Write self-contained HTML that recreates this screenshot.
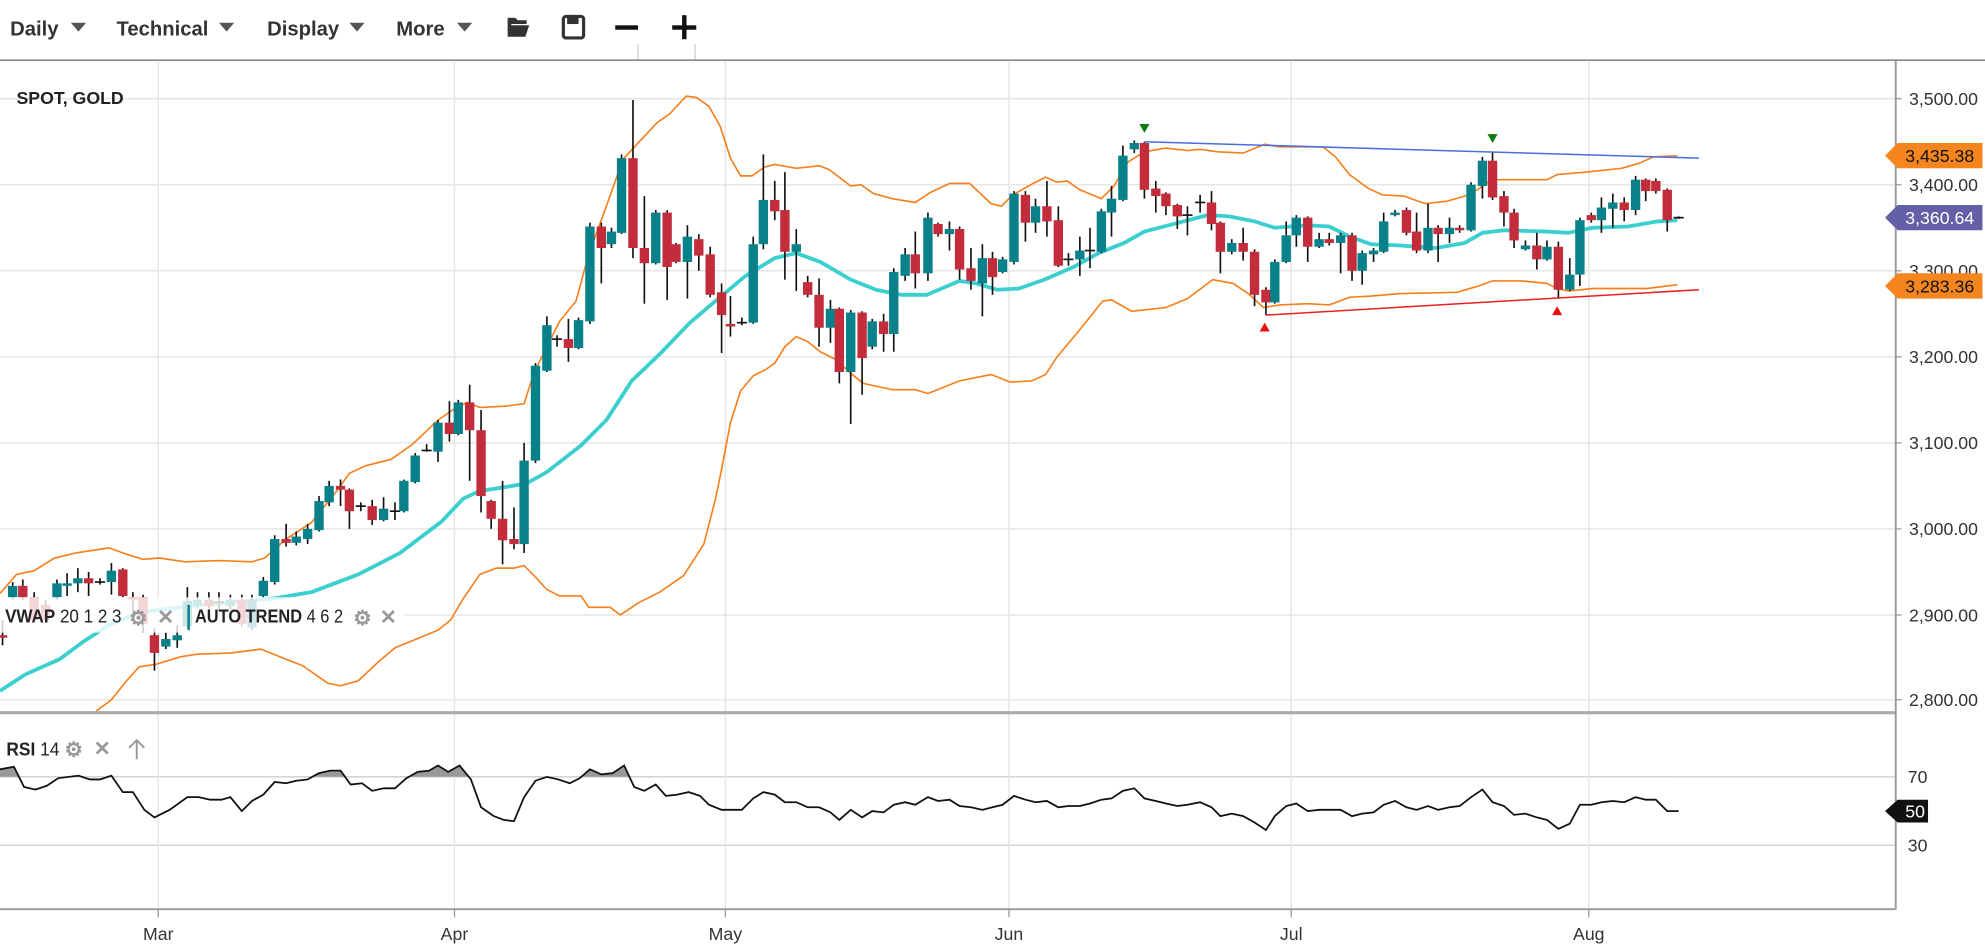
<!DOCTYPE html>
<html><head><meta charset="utf-8"><style>
html,body{margin:0;padding:0;background:#fff;}
svg{display:block;font-family:"Liberation Sans",sans-serif;}
</style></head><body>
<svg id="s" width="1985" height="949" viewBox="0 0 1568 750" preserveAspectRatio="none">
<defs><clipPath id="above70"><rect x="0" y="560" width="1497" height="54"/></clipPath></defs>
<rect x="0" y="0" width="1568" height="750" fill="#fff"/>
<g font-weight="bold" font-size="16" fill="#333">
<text x="8" y="28">Daily</text><text x="92" y="28">Technical</text><text x="211" y="28">Display</text><text x="313" y="28">More</text>
</g>
<g fill="#555"><path d="M56 18h12l-6 7z"/><path d="M173 18h12l-6 7z"/><path d="M276 18h12l-6 7z"/><path d="M361 18h12l-6 7z"/></g>
<path d="M401 14h6l2 2h7v3h-12l-3 10z M403 20h15l-3 9h-14z" fill="#333"/>
<rect x="445" y="13" width="16" height="17" rx="2" fill="none" stroke="#333" stroke-width="2.5"/><rect x="448" y="13" width="9" height="6" fill="#333"/>
<rect x="486" y="20" width="18" height="3.5" fill="#111"/>
<rect x="531" y="20" width="19" height="3.5" fill="#111"/><rect x="538.8" y="12" width="3.5" height="19" fill="#111"/>
<line x1="504" y1="35" x2="504" y2="47" stroke="#ccc"/><line x1="549" y1="35" x2="549" y2="47" stroke="#ccc"/>
<line x1="0" y1="47.5" x2="1568" y2="47.5" stroke="#666" stroke-width="1"/>
<g stroke="#e6e6e6" stroke-width="1.2">
<line x1="0" y1="78" x2="1497" y2="78"/><line x1="0" y1="146" x2="1497" y2="146"/><line x1="0" y1="214" x2="1497" y2="214"/><line x1="0" y1="282" x2="1497" y2="282"/><line x1="0" y1="350" x2="1497" y2="350"/><line x1="0" y1="418" x2="1497" y2="418"/><line x1="0" y1="486" x2="1497" y2="486"/><line x1="0" y1="553" x2="1497" y2="553"/>
<line x1="0" y1="614" x2="1497" y2="614" stroke="#d5d5d5"/><line x1="0" y1="668" x2="1497" y2="668" stroke="#d5d5d5"/>
<line x1="125" y1="48" x2="125" y2="718"/><line x1="359" y1="48" x2="359" y2="718"/><line x1="573" y1="48" x2="573" y2="718"/><line x1="797" y1="48" x2="797" y2="718"/><line x1="1020" y1="48" x2="1020" y2="718"/><line x1="1255" y1="48" x2="1255" y2="718"/>
</g>
<g id="bands" fill="none"></g>
<g id="candles"></g>
<line x1="904" y1="112" x2="1342" y2="125" stroke="#4a6ee0" stroke-width="1.2"/>
<line x1="1000" y1="249" x2="1342" y2="229" stroke="#e82020" stroke-width="1.2"/>
<path d="M900 98h8l-4 7z M1175 106h8l-4 7z" fill="#0a7d0a"/>
<path d="M995 262h8l-4-7z M1226 249h8l-4-7z" fill="#e81010"/>
<text x="13" y="82" font-weight="bold" font-size="14" fill="#222">SPOT, GOLD</text>
<rect x="0" y="472" width="320" height="28" fill="#fff" fill-opacity="0.8"/>
<g font-size="14.5" fill="#222"><text x="4" y="492" textLength="92" lengthAdjust="spacingAndGlyphs"><tspan font-weight="bold">VWAP</tspan> 20 1 2 3</text>
<text x="154" y="492" textLength="117" lengthAdjust="spacingAndGlyphs"><tspan font-weight="bold">AUTO TREND</tspan> 4 6 2</text></g>
<g fill="#999" font-size="16" font-weight="bold"><text x="102" y="494">⚙</text><text x="124" y="493">✕</text><text x="279" y="494">⚙</text><text x="300" y="493">✕</text></g>
<line x1="149" y1="478" x2="149" y2="498" stroke="#0a8289" stroke-width="2"/>
<rect x="0" y="562" width="1497" height="2.5" fill="#aaa"/>
<g id="rsi"></g>
<g font-size="14.5" fill="#222"><text x="5" y="597" textLength="42" lengthAdjust="spacingAndGlyphs"><tspan font-weight="bold">RSI</tspan> 14</text></g>
<g fill="#999" font-size="16" font-weight="bold"><text x="51" y="598">⚙</text><text x="74" y="597">✕</text></g>
<path d="M108 600V585M102 591l6-6 6 6" stroke="#999" stroke-width="1.5" fill="none"/>
<line x1="0" y1="718.5" x2="1497" y2="718.5" stroke="#999" stroke-width="1.5"/>
<line x1="1497.5" y1="48" x2="1497.5" y2="719" stroke="#999" stroke-width="1.5"/>
<g stroke="#999"><line x1="125" y1="718" x2="125" y2="725"/><line x1="359" y1="718" x2="359" y2="725"/><line x1="573" y1="718" x2="573" y2="725"/><line x1="797" y1="718" x2="797" y2="725"/><line x1="1020" y1="718" x2="1020" y2="725"/><line x1="1255" y1="718" x2="1255" y2="725"/>
<line x1="1497" y1="78" x2="1502" y2="78"/><line x1="1497" y1="146" x2="1502" y2="146"/><line x1="1497" y1="214" x2="1502" y2="214"/><line x1="1497" y1="282" x2="1502" y2="282"/><line x1="1497" y1="350" x2="1502" y2="350"/><line x1="1497" y1="418" x2="1502" y2="418"/><line x1="1497" y1="486" x2="1502" y2="486"/><line x1="1497" y1="553" x2="1502" y2="553"/></g>
<g font-size="14" fill="#333">
<text x="1508" y="83">3,500.00</text><text x="1508" y="151">3,400.00</text><text x="1508" y="219">3,300.00</text><text x="1508" y="287">3,200.00</text><text x="1508" y="355">3,100.00</text><text x="1508" y="423">3,000.00</text><text x="1508" y="491">2,900.00</text><text x="1508" y="558">2,800.00</text>
<text x="1507" y="619">70</text><text x="1507" y="673">30</text>
<text x="125" y="743" text-anchor="middle">Mar</text><text x="359" y="743" text-anchor="middle">Apr</text><text x="573" y="743" text-anchor="middle">May</text><text x="797" y="743" text-anchor="middle">Jun</text><text x="1020" y="743" text-anchor="middle">Jul</text><text x="1255" y="743" text-anchor="middle">Aug</text>
</g>
<path d="M1489 123l10-10h67v20h-67z" fill="#f5861f"/><text x="1505" y="128" font-size="14" fill="#111">3,435.38</text>
<path d="M1489 172l10-10h67v20h-67z" fill="#6460a8"/><text x="1505" y="177" font-size="14" fill="#fff">3,360.64</text>
<path d="M1489 226l10-10h67v20h-67z" fill="#f5861f"/><text x="1505" y="231" font-size="14" fill="#111">3,283.36</text>
<path d="M1489 641l10-9h24v18h-24z" fill="#111"/><text x="1505" y="646" font-size="14" fill="#fff">50</text>
</svg>
<script>
var NS="http://www.w3.org/2000/svg";
function el(p,t,a){var e=document.createElementNS(NS,t);for(var k in a)e.setAttribute(k,a[k]);p.appendChild(e);return e;}
var C=[[2,502,504,490,510],[10,472,463,460,474],[18,463,472,458,474],[27,472,490,468,492],[36,478,490,474,492],[45,472,461,458,474],[53,463,461,453,471],[61.5,461,457,449,468],[70,457,461,452,471],[79,460,460,457,462],[88,460,451,445,470],[97,450,471,449,472],[105,472,474,468,486],[113,472,493,470,500],[122,502,516,496,530],[131,511,505,500,513],[140,506,502,494,512],[148,495,475,464,496],[156,478,474,468,480],[165,474,479,468,481],[173,476,477,468,482],[182,479,474,470,482],[191,474,493,470,495],[199,496,474,470,498],[208,471,459,456,472],[217,460,426,423,462],[226,426,429,414,432],[234,429,424,420,431],[243,426,418,414,430],[252,419,396,392,420],[260,397,384,380,400],[269,384,387,379,400],[276,387,404,386,418],[285,400,400,397,404],[294,400,411,395,415],[303,411,402,393,412],[312,404,404,397,411],[319,404,380,379,405],[328,381,360,358,382],[337,356,356,351,357],[346,357,334,332,365],[355,334,343,317,349],[362,343,318,316,344],[371,318,340,304,380],[380,340,392,324,405],[388,396,410,395,418],[397,410,427,380,446],[406,426,430,401,434],[414,430,364,350,437],[423,364,289,287,366],[432,293,257,250,294],[440,268,268,265,274],[449,268,275,252,286],[457,275,253,251,276],[466,254,179,176,256],[475,179,196,176,224],[483,193,183,180,196],[491,184,125,122,185],[500,125,196,79,204],[509,196,208,155,240],[518,208,168,166,209],[527,168,211,166,237],[534,193,207,192,208],[543,207,187,178,236],[552,189,202,185,214],[561,201,233,195,235],[570,231,249,224,279],[577,256,258,234,266],[586,255,255,251,257],[595,255,193,187,256],[603,193,158,122,197],[612,158,167,143,174],[620,166,199,136,221],[629,199,193,181,230],[638,223,233,218,235],[647,233,259,220,274],[656,259,244,237,271],[663,244,294,243,303],[672,294,247,245,335],[681,247,283,246,312],[689,274,254,252,276],[698,254,264,248,278],[706,264,215,212,278],[715,218,201,196,222],[723,201,216,183,228],[733,216,172,168,222],[741,177,185,176,187],[750,185,181,175,198],[758,181,213,179,221],[767,212,222,196,229],[776,224,204,193,250],[784,204,219,199,233],[792,215,205,203,216],[801,207,153,151,209],[810,154,176,151,191],[818,176,163,157,184],[827,163,175,143,187],[836,174,210,163,211],[844,205,205,200,210],[853,205,198,187,218],[861,198,198,180,212],[870,199,167,165,200],[878,168,157,147,187],[887,158,123,115,159],[896,118,113,111,121],[904,113,150,112,157],[913,149,155,143,168],[921,153,163,152,170],[930,162,171,161,181],[938,170,170,163,186],[948,160,160,154,168],[957,160,177,151,182],[964,176,199,175,216],[973,199,192,189,201],[982,192,199,180,206],[991,199,233,197,242],[1000,229,239,227,249],[1007,239,207,205,240],[1016,207,186,175,208],[1024,186,172,170,195],[1033,172,195,171,207],[1042,195,189,184,196],[1050,189,192,184,194],[1059,192,186,184,216],[1068,186,214,184,222],[1076,214,200,198,225],[1085,201,198,196,207],[1093,199,175,168,200],[1102,170,168,166,171],[1111,166,184,164,186],[1119,183,198,168,200],[1128,198,180,161,200],[1136,180,185,178,207],[1145,185,180,172,192],[1153,180,182,178,184],[1162,182,146,144,183],[1171,147,127,124,157],[1179,127,156,120,158],[1188,155,168,151,179],[1196,168,190,165,196],[1205,197,194,190,198],[1214,194,205,184,213],[1222,205,195,190,206],[1231,195,229,191,236],[1240,229,217,204,230],[1248,217,174,172,226],[1257,170,174,168,176],[1265,174,164,156,184],[1274,165,160,153,180],[1283,160,166,156,175],[1292,166,142,139,170],[1300,142,151,141,159],[1308,143,151,141,153],[1317,150,174,149,183],[1326,172,172,171,173]];
var g=document.getElementById("candles");
C.forEach(function(c){var x=c[0],o=c[1],cl=c[2],h=c[3],l=c[4];
 el(g,"line",{x1:x,y1:h,x2:x,y2:l,stroke:"#111","stroke-width":1.3});
 var t=Math.min(o,cl),b=Math.max(o,cl),col=cl<o?"#08818a":"#c32d3b";
 if(b-t<1.2){el(g,"line",{x1:x-4,y1:t,x2:x+4,y2:t,stroke:"#111","stroke-width":1.3});}
 else el(g,"rect",{x:x-3.7,y:t,width:7.4,height:b-t,fill:col});});
function pl(pts){return pts.map(function(p){return p[0]+","+p[1]}).join(" ");}
var up=[[0,469],[13,454],[27,451],[43,441],[60,437],[86,433],[100,438],[113,442],[126,441],[146,444],[173,443],[199,444],[209,441],[226,426],[246,413],[266,388],[276,374],[289,368],[309,363],[326,351],[346,332],[359,323],[369,318],[379,322],[399,321],[414,319],[422,294],[442,254],[455,238],[465,201],[479,163],[492,126],[505,112],[519,97],[529,90],[542,76],[550,77],[560,84],[569,100],[577,125],[585,139],[594,139],[604,132],[612,130],[629,133],[638,132],[647,131],[655,134],[672,147],[680,146],[690,153],[705,157],[723,160],[735,152],[750,145],[766,145],[783,161],[791,163],[800,154],[816,145],[826,140],[835,144],[843,143],[853,150],[870,157],[880,147],[891,128],[904,120],[921,117],[938,119],[948,118],[962,120],[982,121],[999,114],[1010,116],[1045,116],[1055,124],[1066,138],[1081,149],[1092,154],[1109,155],[1126,161],[1143,159],[1157,155],[1167,150],[1178,142],[1202,142],[1222,142],[1230,138],[1253,136],[1281,133],[1295,129],[1306,124],[1325,123]];
var lo=[[76,562],[88,553],[100,538],[110,527],[123,525],[143,519],[156,517],[183,516],[206,513],[226,521],[239,526],[259,540],[269,542],[283,538],[299,523],[312,512],[329,505],[346,498],[356,490],[366,473],[379,454],[392,449],[406,449],[414,447],[422,455],[432,466],[442,471],[459,471],[465,480],[482,480],[490,486],[505,476],[521,468],[540,455],[556,430],[565,395],[570,371],[577,334],[585,309],[595,297],[605,292],[612,287],[620,274],[629,266],[638,270],[648,278],[660,284],[672,295],[682,303],[705,308],[723,308],[733,311],[758,301],[783,296],[798,302],[815,301],[826,296],[835,282],[851,263],[871,238],[878,237],[894,246],[921,243],[938,236],[958,221],[974,224],[986,232],[998,243],[1011,241],[1033,240],[1050,241],[1066,235],[1083,234],[1106,232],[1151,231],[1168,226],[1179,222],[1202,222],[1222,224],[1230,228],[1239,230],[1258,228],[1301,228],[1325,225]];
var mid=[[0,546],[20,533],[47,521],[66,507],[86,494],[110,484],[150,479],[183,476],[216,473],[246,468],[283,454],[316,437],[349,412],[366,394],[379,388],[399,385],[416,382],[432,373],[459,352],[479,332],[499,301],[521,280],[545,255],[565,238],[589,218],[612,204],[629,200],[648,207],[672,221],[692,229],[712,233],[732,233],[758,222],[771,224],[788,229],[805,228],[825,221],[848,211],[868,200],[888,192],[904,183],[931,176],[954,170],[971,171],[991,175],[1007,180],[1033,178],[1050,179],[1066,187],[1083,193],[1106,194],[1134,196],[1157,192],[1171,184],[1188,182],[1222,183],[1239,184],[1258,180],[1286,179],[1309,175],[1325,174]];
var b=document.getElementById("bands");
el(b,"polyline",{points:pl(up),stroke:"#f7801e","stroke-width":1.3});
el(b,"polyline",{points:pl(lo),stroke:"#f7801e","stroke-width":1.3});
el(b,"polyline",{points:pl(mid),stroke:"#3ccfcf","stroke-width":3,"stroke-linejoin":"round"});
var r=[[0,608],[11,606],[19,622],[28,624],[37,621],[46,615],[62,613],[71,616],[79,616],[88,613],[97,626],[105,626],[114,640],[122,646],[134,640],[148,630],[157,630],[166,632],[175,632],[182,630],[191,641],[199,633],[208,628],[217,618],[226,619],[234,617],[243,616],[252,611],[261,609],[269,609],[277,620],[286,619],[294,625],[303,623],[312,623],[321,615],[330,610],[339,609],[346,605],[354,610],[363,605],[372,616],[380,638],[390,645],[398,648],[406,649],[414,630],[423,617],[432,614],[441,616],[450,619],[458,615],[466,608],[475,612],[484,611],[493,605],[501,622],[509,625],[518,620],[526,629],[535,628],[544,626],[553,629],[560,636],[570,640],[577,640],[586,640],[595,631],[603,626],[612,628],[620,634],[629,634],[638,638],[647,638],[656,642],[663,648],[672,640],[681,646],[689,641],[698,642],[706,636],[715,634],[723,636],[733,630],[741,633],[750,632],[758,637],[767,638],[776,640],[784,638],[792,636],[801,629],[810,632],[818,634],[827,633],[836,638],[844,637],[853,637],[861,635],[870,632],[878,631],[887,625],[896,623],[904,631],[913,633],[921,635],[930,637],[938,636],[948,634],[957,638],[964,645],[973,643],[982,645],[991,650],[1000,656],[1007,645],[1016,637],[1024,635],[1033,641],[1042,640],[1050,640],[1059,640],[1068,645],[1076,643],[1085,642],[1093,636],[1102,633],[1111,638],[1119,640],[1128,637],[1136,640],[1145,638],[1153,637],[1162,630],[1171,624],[1179,634],[1188,637],[1196,644],[1205,643],[1214,646],[1222,648],[1231,655],[1240,651],[1248,636],[1257,636],[1265,634],[1274,633],[1283,634],[1292,630],[1300,632],[1308,632],[1317,641],[1326,641]];
var rg=document.getElementById("rsi");
el(rg,"polygon",{points:"0,614 "+pl(r)+" 1326,614",fill:"#999","clip-path":"url(#above70)"});
el(rg,"polyline",{points:pl(r),fill:"none",stroke:"#111","stroke-width":1.4});
</script>
</body></html>
